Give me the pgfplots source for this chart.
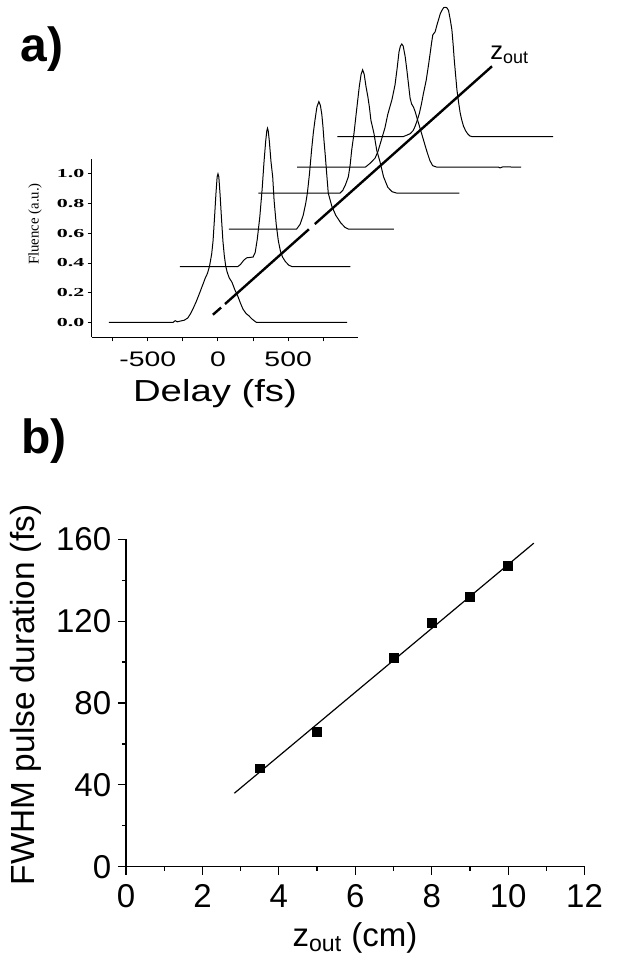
\documentclass[border=0pt]{standalone}
\usepackage{pgfplots}
\pgfplotsset{compat=1.18}
\usepackage{fontspec}
\setmainfont{Liberation Sans}
\newfontfamily\serif{Liberation Serif}
\newcommand{\xl}[1]{\scalebox{1.35}[1]{#1}}
\newcommand{\yl}[1]{\scalebox{1.8}[1]{\serif\bfseries #1}}
\pgfplotsset{trace/.style={black, line width=0.5pt, mark=none}}
\begin{document}
\begin{tikzpicture}
\path[use as bounding box] (0,0) rectangle (310pt,477pt);
% ---------------- panel a ----------------
\begin{axis}[
  at={(45.85pt,308.35pt)}, anchor=south west,
  scale only axis, width=133.3pt, height=89.15pt,
  xmin=-900, xmax=1000, ymin=-0.1, ymax=1.1,
  axis x line*=bottom, axis y line*=left,
  axis line style={line width=0.6pt,-},
  clip=false,
  tick align=outside,
  major tick length=2pt,
  tick style={line width=0.5pt,black},
  xtick={-750,-500,-250,0,250,500,750},
  xticklabels={{},\xl{-500},{},\xl{0},{},\xl{500},{}},
  ytick={0,0.2,0.4,0.6,0.8,1.0},
  yticklabels={\yl{0.0},\yl{0.2},\yl{0.4},\yl{0.6},\yl{0.8},\yl{1.0}},
  xticklabel style={font=\fontsize{10.5}{12}\selectfont, anchor=base, yshift=-12.7pt},
  yticklabel style={font=\fontsize{6.1}{7}\selectfont, anchor=east, inner sep=0pt, xshift=-1.5pt},
]
% pulse 1
\addplot[trace] coordinates {(-778,0) (-320,0) (-305,0.012) (-290,0.004) (-265,0.01) (-240,0.015) (-215,0.03) (-195,0.06) (-179,0.09) (-155,0.14) (-130,0.20) (-110,0.25) (-90,0.30) (-75,0.33) (-60,0.38) (-45,0.46) (-35,0.55) (-25,0.70) (-15,0.86) (-6,0.98) (0,1.0) (6,0.98) (15,0.86) (25,0.70) (35,0.55) (45,0.45) (55,0.38) (65,0.34) (80,0.30) (100,0.27) (120,0.22) (140,0.18) (160,0.13) (178,0.09) (200,0.06) (220,0.045) (240,0.025) (260,0.01) (274,0) (921,0)};
% pulse 2
\addplot[trace] coordinates {(-271,0.375) (140,0.375) (160,0.39) (185,0.42) (205,0.435) (250,0.44) (265,0.47) (280,0.56) (298,0.71) (315,0.90) (328,1.08) (340,1.22) (348,1.29) (353,1.307) (358,1.29) (366,1.22) (378,1.08) (390,0.98) (400,0.82) (415,0.66) (430,0.55) (445,0.48) (460,0.44) (480,0.41) (505,0.385) (530,0.375) (944,0.375)};
% pulse 3
\addplot[trace] coordinates {(77,0.628) (560,0.628) (585,0.66) (607,0.72) (625,0.80) (637,0.87) (652,1.00) (667,1.16) (680,1.28) (691,1.36) (705,1.45) (719,1.486) (730,1.46) (740,1.40) (748,1.32) (755,1.23) (765,1.12) (774,1.01) (786,0.87) (812,0.78) (840,0.72) (875,0.67) (905,0.64) (930,0.628) (1253,0.628)};
% pulse 4
\addplot[trace] coordinates {(288,0.87) (869,0.87) (890,0.89) (910,0.93) (929,0.98) (942,1.06) (953,1.16) (969,1.27) (988,1.43) (1007,1.587) (1020,1.67) (1031,1.70) (1042,1.67) (1055,1.587) (1068,1.52) (1079,1.45) (1090,1.36) (1100,1.32) (1112,1.27) (1131,1.16) (1155,1.08) (1180,0.98) (1210,0.91) (1240,0.88) (1275,0.87) (1720,0.87)};
% pulse 5
\addplot[trace] coordinates {(564,1.045) (1050,1.045) (1083,1.07) (1119,1.105) (1140,1.15) (1165,1.23) (1190,1.31) (1210,1.40) (1240,1.50) (1262,1.60) (1278,1.72) (1290,1.82) (1300,1.86) (1310,1.874) (1320,1.86) (1334,1.79) (1346,1.70) (1357,1.61) (1369,1.51) (1380,1.47) (1393,1.45) (1405,1.42) (1420,1.37) (1436,1.32) (1464,1.23) (1489,1.15) (1510,1.09) (1530,1.055) (1560,1.045) (2000,1.045) (2010,1.04) (2030,1.047) (2160,1.045)};
% pulse 6
\addplot[trace] coordinates {(851,1.251) (1321,1.251) (1345,1.26) (1369,1.27) (1390,1.29) (1405,1.32) (1420,1.36) (1436,1.41) (1450,1.47) (1464,1.54) (1484,1.63) (1500,1.73) (1512,1.81) (1522,1.88) (1531,1.935) (1548,1.957) (1560,2.00) (1571,2.035) (1585,2.08) (1596,2.10) (1608,2.118) (1619,2.121) (1631,2.118) (1643,2.10) (1655,2.04) (1667,1.97) (1676,1.87) (1684,1.766) (1694,1.66) (1703,1.565) (1715,1.48) (1726,1.41) (1738,1.36) (1750,1.32) (1765,1.29) (1779,1.27) (1795,1.255) (1810,1.251) (2388,1.251)};
% z_out direction line
\addplot[black, mark=none, line width=1.2pt] coordinates {(-36,0.052) (22,0.100)};
\addplot[black, mark=none, line width=1.2pt] coordinates {(50,0.124) (648,0.627)};
\addplot[black, mark=none, line width=1.2pt] coordinates {(690,0.662) (1953,1.724)};
\end{axis}
\node[anchor=base west, inner sep=0pt, font=\fontsize{24}{28}\selectfont\bfseries] at (10pt,446pt) {a)};
\node[anchor=base west, inner sep=0pt, font=\fontsize{12.8}{14}\selectfont] at (245pt,447pt) {z\textsubscript{out}};
\node[anchor=base, inner sep=0pt, font=\fontsize{15.2}{17}\selectfont] at (107.5pt,276.15pt) {\scalebox{1.26}[1]{Delay (fs)}};
\node[rotate=90, inner sep=0pt, font=\fontsize{7.4}{9}\selectfont\serif] at (17.5pt,365pt) {Fluence (a.u.)};
% ---------------- panel b ----------------
\node[anchor=base west, inner sep=0pt, font=\fontsize{24}{28}\selectfont\bfseries] at (10.35pt,250.45pt) {b)};
\begin{axis}[
  at={(63pt,43.65pt)}, anchor=south west,
  scale only axis, width=229.3pt, height=163.7pt,
  xmin=0, xmax=12, ymin=0, ymax=160,
  axis x line*=bottom, axis y line*=left,
  axis line style={line width=0.75pt,-},
  tick align=outside,
  major tick length=4pt, minor tick length=2pt,
  tick style={line width=0.6pt,black},
  xtick={0,2,4,6,8,10,12}, ytick={0,40,80,120,160},
  minor x tick num=1, minor y tick num=1,
  /pgf/number format/assume math mode=true,
  ticklabel style={font=\fontsize{16.5}{18}\selectfont},
  xticklabel style={anchor=base, yshift=-16.3pt},
  yticklabel style={anchor=east, inner sep=0pt, xshift=-3.2pt},
]
\addplot[only marks, mark=square*, mark size=2.2pt, black] coordinates {(3.5,48) (5,66) (7,102) (8,119) (9,132) (10,147)};
\addplot[black, line width=0.6pt, mark=none] coordinates {(2.835,35.9) (10.67,158.1)};
\end{axis}
\node[anchor=base, inner sep=0pt, font=\fontsize{16.5}{18}\selectfont] at (177.5pt,4pt) {z\textsubscript{out} (cm)};
\node[rotate=90, inner sep=0pt, font=\fontsize{16.7}{18}\selectfont] at (12.75pt,129.5pt) {FWHM pulse duration (fs)};
\end{tikzpicture}
\end{document}
